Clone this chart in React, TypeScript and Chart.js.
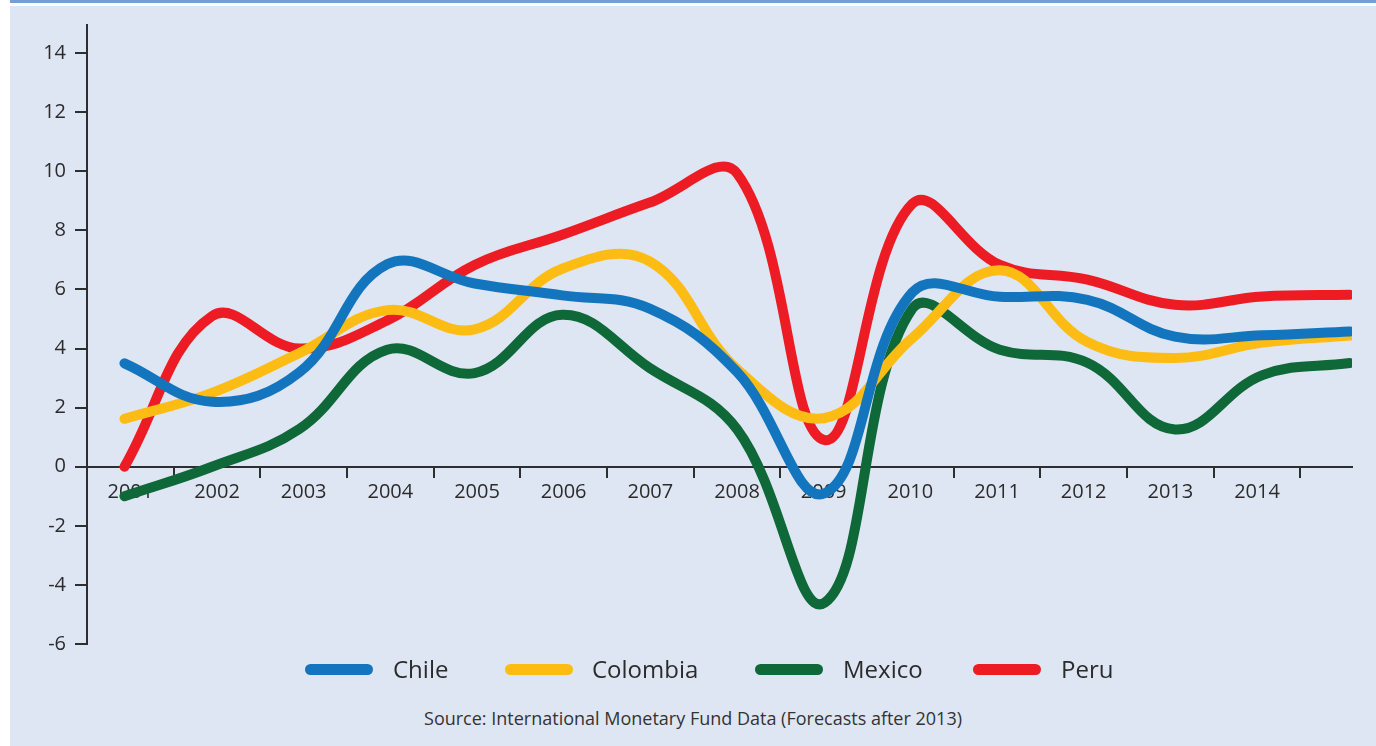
import React, { useEffect, useRef } from "react";
import { Chart, registerables } from "chart.js";

Chart.register(...registerables);

const years = [2001, 2002, 2003, 2004, 2005, 2006, 2007, 2008, 2009, 2010, 2011, 2012, 2013, 2014, 2015];
const tickYears = [2001, 2002, 2003, 2004, 2005, 2006, 2007, 2008, 2009, 2010, 2011, 2012, 2013, 2014];
const yTicks = [-6, -4, -2, 0, 2, 4, 6, 8, 10, 12, 14];

const chile = [3.5, 2.2, 3.2, 6.85, 6.2, 5.8, 5.35, 3.2, -0.9, 5.9, 5.75, 5.65, 4.4, 4.45, 4.58];
const colombia = [1.62, 2.5, 3.85, 5.3, 4.65, 6.7, 6.95, 3.3, 1.65, 4.35, 6.65, 4.22, 3.68, 4.2, 4.44];
const mexico = [-1.0, 0.0, 1.28, 3.96, 3.17, 5.14, 3.34, 1.26, -4.6, 5.35, 3.96, 3.52, 1.26, 3.1, 3.51];
const peru = [0.0, 5.1, 4.0, 4.95, 6.83, 7.85, 8.94, 9.92, 0.9, 8.9, 6.83, 6.33, 5.48, 5.76, 5.82];

const seriesNames = ["Chile", "Colombia", "Mexico", "Peru"];
const seriesColors = ["#1375bd", "#fdbc14", "#0e6837", "#ed1c24"];
const seriesValues = [chile, colombia, mexico, peru];

const sourceText = "Source: International Monetary Fund Data (Forecasts after 2013)";

const AXIS_COLOR = "#2e2e2e";
const TEXT_COLOR = "#2b2b2b";
const FONT = "'Open Sans', 'DejaVu Sans', sans-serif";

export default function App() {
  const canvasRef = useRef<HTMLCanvasElement | null>(null);

  useEffect(() => {
    document.body.style.margin = "0";
    let chart: Chart | null = null;
    let cancelled = false;

    const build = () => {
      if (cancelled || !canvasRef.current) return;
      chart = new Chart(canvasRef.current, {
        type: "line",
        data: {
          datasets: seriesNames.map((name, i) => ({
            label: name,
            data: years.map((yr, j) => ({ x: yr, y: seriesValues[i][j] })),
            borderColor: seriesColors[i],
            backgroundColor: seriesColors[i],
            borderWidth: 10,
            pointRadius: 0,
            pointHoverRadius: 0,
            tension: 0.4,
            borderCapStyle: "round",
            borderJoinStyle: "round",
            fill: false,
            xAxisID: "xd",
            yAxisID: "y",
          })),
        },
        options: {
          animation: false,
          responsive: false,
          maintainAspectRatio: false,
          events: [],
          layout: { padding: { top: 25, bottom: 20, left: 0, right: 24 } },
          plugins: {
            legend: { display: false },
            tooltip: { enabled: false },
            title: { display: false },
          },
          scales: {
            x: {
              type: "linear",
              position: { y: 0 },
              min: 2000.5,
              max: 2015.096,
              afterBuildTicks: (s: any) => {
                s.ticks = tickYears.map((v) => ({ value: v }));
              },
              ticks: {
                callback: (v: any) => String(v),
                autoSkip: false,
                maxRotation: 0,
                minRotation: 0,
                padding: 4,
                color: TEXT_COLOR,
                font: { family: FONT, size: 20 },
              },
              grid: {
                display: true,
                drawOnChartArea: false,
                drawTicks: true,
                tickLength: 10,
                offset: true,
                color: AXIS_COLOR,
                lineWidth: 2,
              },
              border: { display: true, color: AXIS_COLOR, width: 2 },
            },
            xd: {
              type: "linear",
              axis: "x",
              display: false,
              min: 2000.572,
              max: 2015.023,
            },
            y: {
              type: "linear",
              position: "left",
              min: -6,
              max: 14.95,
              afterBuildTicks: (s: any) => {
                s.ticks = yTicks.map((v) => ({ value: v }));
              },
              afterFit: (s: any) => {
                s.width = 87;
              },
              ticks: {
                callback: (v: any) => String(v),
                padding: 9,
                color: TEXT_COLOR,
                font: { family: FONT, size: 20 },
              },
              grid: {
                display: true,
                drawOnChartArea: false,
                drawTicks: true,
                tickLength: 12,
                color: AXIS_COLOR,
                lineWidth: 2,
              },
              border: { display: true, color: AXIS_COLOR, width: 2 },
            },
          },
        } as any,
      });
    };

    const fonts: any = (document as any).fonts;
    if (fonts && fonts.load) {
      Promise.all([fonts.load("20px 'Open Sans'"), fonts.load("24px 'Open Sans'")])
        .then(build, build);
    } else {
      build();
    }

    return () => {
      cancelled = true;
      if (chart) chart.destroy();
    };
  }, []);

  const swatchLeft = [305, 505, 755, 973];
  const textLeft = [393, 592, 843, 1061];

  return (
    <div style={{ position: "relative", width: 1376, height: 746, background: "#ffffff", overflow: "hidden" }}>
      <div style={{ position: "absolute", left: 10, top: 0, right: 0, height: 3, background: "#739fd4" }} />
      <div style={{ position: "absolute", left: 10, top: 6, right: 0, bottom: 0, background: "#dfe6f3" }} />
      <canvas
        ref={canvasRef}
        width={1376}
        height={665}
        style={{ position: "absolute", left: 0, top: 0, width: 1376, height: 665 }}
      />
      {seriesNames.map((name, i) => (
        <React.Fragment key={name}>
          <div
            style={{
              position: "absolute",
              left: swatchLeft[i],
              top: 664,
              width: 68,
              height: 11,
              borderRadius: 6,
              background: seriesColors[i],
            }}
          />
          <div
            style={{
              position: "absolute",
              left: textLeft[i],
              top: 656,
              height: 26,
              lineHeight: "26px",
              fontFamily: FONT,
              fontSize: 24,
              color: TEXT_COLOR,
              whiteSpace: "nowrap",
            }}
          >
            {name}
          </div>
        </React.Fragment>
      ))}
      <div
        style={{
          position: "absolute",
          left: 0,
          width: 1386,
          top: 706,
          lineHeight: "24px",
          textAlign: "center",
          fontFamily: FONT,
          fontSize: 18,
          color: "#333333",
          whiteSpace: "nowrap",
        }}
      >
        {sourceText}
      </div>
    </div>
  );
}
